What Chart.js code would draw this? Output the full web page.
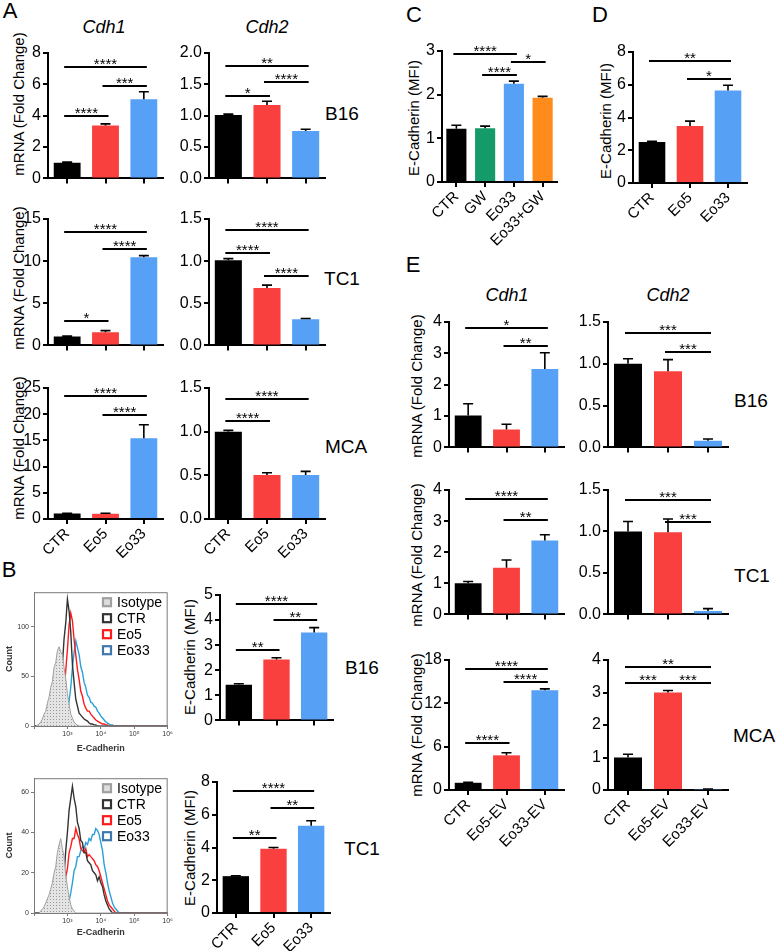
<!DOCTYPE html>
<html>
<head>
<meta charset="utf-8">
<script src="https://cdn.jsdelivr.net/npm/chart.js@4.4.0/dist/chart.umd.min.js"></script>
<style>
body{margin:0;background:#fff;width:778px;height:951px;position:relative;overflow:hidden;font-family:"Liberation Sans",Arial,Helvetica,sans-serif}
canvas{position:absolute}
.t{position:absolute;line-height:1;transform:translate(-50%,-50%);white-space:nowrap;color:#000}
.yt{position:absolute;line-height:1;transform:translate(-50%,-50%) rotate(-90deg);white-space:nowrap;color:#000;font-size:15px}
.letra{font-size:22px}
.gen{font-size:18px;font-style:italic}
.fila{font-size:19px}
</style>
</head>
<body>

<div class="t letra" style="left:10px;top:11px">A</div>
<div class="t gen" style="left:104px;top:27px">Cdh1</div>
<div class="t gen" style="left:267px;top:27px">Cdh2</div>
<div class="t fila" style="left:342px;top:113px">B16</div>
<div class="t fila" style="left:342px;top:278px">TC1</div>
<div class="t fila" style="left:346px;top:446px">MCA</div>
<div class="t letra" style="left:9px;top:570px">B</div>
<div class="t fila" style="left:362px;top:667px">B16</div>
<div class="t fila" style="left:362px;top:848px">TC1</div>
<div class="t letra" style="left:414px;top:15px">C</div>
<div class="t letra" style="left:600px;top:15px">D</div>
<div class="t letra" style="left:413px;top:265px">E</div>
<div class="t gen" style="left:507px;top:295px">Cdh1</div>
<div class="t gen" style="left:668px;top:295px">Cdh2</div>
<div class="t fila" style="left:751px;top:400px">B16</div>
<div class="t fila" style="left:752px;top:575px">TC1</div>
<div class="t fila" style="left:754px;top:735px">MCA</div>

<div class="yt" style="left:18px;top:104px">mRNA (Fold Change)</div>
<div class="yt" style="left:18px;top:278px">mRNA (Fold Change)</div>
<div class="yt" style="left:18px;top:448px">mRNA (Fold Change)</div>
<div class="yt" style="left:189px;top:657px">E-Cadherin (MFI)</div>
<div class="yt" style="left:189px;top:848px">E-Cadherin (MFI)</div>
<div class="yt" style="left:413px;top:118px">E-Cadherin (MFI)</div>
<div class="yt" style="left:605px;top:121px">E-Cadherin (MFI)</div>
<div class="yt" style="left:416px;top:386px">mRNA (Fold Change)</div>
<div class="yt" style="left:416px;top:555px">mRNA (Fold Change)</div>
<div class="yt" style="left:416px;top:725px">mRNA (Fold Change)</div>

<script>
var fuente = '"Liberation Sans", Arial, Helvetica, sans-serif';

// grupos y colores
var grupos_eo = ['CTR', 'Eo5', 'Eo33'];
var grupos_gw = ['CTR', 'GW', 'Eo33', 'Eo33+GW'];
var grupos_ev = ['CTR', 'Eo5-EV', 'Eo33-EV'];
var colores_eo = ['#000000', '#F9403F', '#56A0F5'];
var colores_gw = ['#000000', '#159B6A', '#56A0F5', '#FF8B1C'];

// panel A  (media, error, marcas [i, j, altura, texto])
var a_cdh1_b16 = [1.0, 3.38, 5.05];
var a_cdh1_b16_err = [0.04, 0.1, 0.48];
var a_cdh1_b16_sig = [[0, 2, 7.1, '****'], [1, 2, 5.9, '***'], [0, 1, 4.0, '****']];
var a_cdh2_b16 = [1.01, 1.17, 0.755];
var a_cdh2_b16_err = [0.015, 0.06, 0.03];
var a_cdh2_b16_sig = [[0, 2, 1.8, '**'], [1, 2, 1.53, '****'], [0, 1, 1.31, '*']];
var a_cdh1_tc1 = [1.05, 1.55, 10.45];
var a_cdh1_tc1_err = [0.05, 0.2, 0.2];
var a_cdh1_tc1_sig = [[0, 2, 13.5, '****'], [1, 2, 11.4, '****'], [0, 1, 2.85, '*']];
var a_cdh2_tc1 = [1.01, 0.68, 0.31];
var a_cdh2_tc1_err = [0.02, 0.035, 0.01];
var a_cdh2_tc1_sig = [[0, 2, 1.375, '****'], [0, 1, 1.1, '****'], [1, 2, 0.82, '****']];
var a_cdh1_mca = [1.05, 1.0, 15.4];
var a_cdh1_mca_err = [0.05, 0.1, 2.6];
var a_cdh1_mca_sig = [[0, 2, 23.5, '****'], [1, 2, 19.8, '****']];
var a_cdh2_mca = [1.0, 0.505, 0.505];
var a_cdh2_mca_err = [0.015, 0.025, 0.04];
var a_cdh2_mca_sig = [[0, 2, 1.37, '****'], [0, 1, 1.12, '****']];

// panel B barras
var b_mfi_b16 = [1.42, 2.43, 3.5];
var b_mfi_b16_err = [0.04, 0.07, 0.2];
var b_mfi_b16_sig = [[0, 2, 4.65, '****'], [1, 2, 4.0, '**'], [0, 1, 2.8, '**']];
var b_mfi_tc1 = [2.25, 3.93, 5.33];
var b_mfi_tc1_err = [0.02, 0.07, 0.3];
var b_mfi_tc1_sig = [[0, 2, 7.45, '****'], [1, 2, 6.4, '**'], [0, 1, 4.6, '**']];

// panel B histogramas (x en decadas log10)
var hist_log = [2.00, 2.05, 2.10, 2.15, 2.20, 2.25, 2.30, 2.35, 2.40, 2.45,
    2.50, 2.55, 2.60, 2.65, 2.70, 2.75, 2.80, 2.85, 2.90, 2.95,
    3.00, 3.05, 3.10, 3.15, 3.20, 3.25, 3.30, 3.35, 3.40, 3.45,
    3.50, 3.55, 3.60, 3.65, 3.70, 3.75, 3.80, 3.85, 3.90, 3.95,
    4.00, 4.05, 4.10, 4.15, 4.20, 4.25, 4.30, 4.35, 4.40, 4.45,
    4.50, 4.55, 4.60, 4.65, 4.70, 4.75, 4.80, 4.85, 4.90, 5.50, 6.00];
var hist_series = ['Isotype', 'CTR', 'Eo5', 'Eo33'];
var h_b16_iso = [0, 0, 1, 2, 4, 7, 12, 15, 23, 29,
    39, 45, 59, 64, 76, 80, 75, 72, 59, 48,
    33, 22, 12, 8, 4, 2, 1, 0, 0, 0,
    0, 0, 0, 0, 0, 0, 0, 0, 0, 0,
    0, 0, 0, 0, 0, 0, 0, 0, 0, 0,
    0, 0, 0, 0, 0, 0, 0, 0, 0, 0, 0];
var h_b16_ctr = [0, 0, 0, 0, 0, 0, 0, 0, 0, 0,
    0, 0, 2, 5, 13, 24, 44, 62, 88, 104,
    128, 116, 95, 62, 44, 27, 20, 13, 11, 9,
    7, 6, 5, 3, 2, 2, 1, 1, 0, 0,
    0, 0, 0, 0, 0, 0, 0, 0, 0, 0,
    0, 0, 0, 0, 0, 0, 0, 0, 0, 0, 0];
var h_b16_eo5 = [0, 0, 0, 0, 0, 0, 0, 0, 0, 0,
    0, 0, 0, 0, 1, 4, 9, 21, 35, 56,
    77, 102, 114, 106, 87, 72, 57, 47, 35, 30,
    22, 18, 15, 15, 12, 10, 8, 6, 5, 4,
    3, 2, 2, 1, 1, 0, 0, 0, 0, 0,
    0, 0, 0, 0, 0, 0, 0, 0, 0, 0, 0];
var h_b16_eo33 = [0, 0, 0, 0, 0, 0, 0, 0, 0, 0,
    0, 0, 0, 0, 0, 0, 0, 0, 2, 5,
    12, 25, 39, 59, 74, 86, 79, 72, 60, 54,
    44, 39, 31, 29, 24, 23, 20, 19, 15, 13,
    10, 8, 6, 4, 3, 2, 1, 1, 0, 0,
    0, 0, 0, 0, 0, 0, 0, 0, 0, 0, 0];
var h_tc1_iso = [0, 0, 0, 0, 1, 2, 3, 5, 7, 9,
    12, 15, 20, 23, 30, 34, 37, 32, 28, 19,
    13, 8, 4, 2, 1, 0, 0, 0, 0, 0,
    0, 0, 0, 0, 0, 0, 0, 0, 0, 0,
    0, 0, 0, 0, 0, 0, 0, 0, 0, 0,
    0, 0, 0, 0, 0, 0, 0, 0, 0, 0, 0];
var h_tc1_ctr = [0, 0, 0, 0, 0, 0, 0, 0, 0, 0,
    0, 0, 0, 0, 2, 4, 7, 13, 19, 31,
    40, 51, 57, 63, 57, 53, 45, 42, 36, 35,
    30, 30, 26, 25, 24, 21, 20, 19, 16, 18,
    15, 13, 9, 6, 4, 2, 1, 0, 0, 0,
    0, 0, 0, 0, 0, 0, 0, 0, 0, 0, 0];
var h_tc1_eo5 = [0, 0, 0, 0, 0, 0, 0, 0, 0, 0,
    0, 0, 0, 0, 0, 1, 3, 6, 11, 18,
    22, 30, 33, 37, 37, 42, 39, 37, 32, 31,
    30, 32, 28, 29, 28, 27, 26, 24, 23, 21,
    18, 15, 12, 9, 6, 4, 3, 2, 1, 0,
    0, 0, 0, 0, 0, 0, 0, 0, 0, 0, 0];
var h_tc1_eo33 = [0, 0, 0, 0, 0, 0, 0, 0, 0, 0,
    0, 0, 0, 0, 0, 0, 0, 0, 0, 1,
    3, 6, 10, 15, 21, 23, 28, 28, 31, 33,
    32, 35, 34, 37, 36, 39, 39, 42, 41, 39,
    35, 31, 24, 20, 15, 11, 8, 5, 3, 2,
    1, 0, 0, 0, 0, 0, 0, 0, 0, 0, 0];

// panel C y D
var c_mfi = [1.22, 1.23, 2.25, 1.93];
var c_mfi_err = [0.08, 0.05, 0.06, 0.03];
var c_mfi_sig = [[0, 2, 2.93, '****'], [2, 3, 2.75, '*'], [1, 2, 2.45, '****']];
var d_mfi = [2.5, 3.48, 5.65];
var d_mfi_err = [0.05, 0.3, 0.32];
var d_mfi_sig = [[0, 2, 7.45, '**'], [1, 2, 6.35, '*']];

// panel E
var e_cdh1_b16 = [1.02, 0.57, 2.5];
var e_cdh1_b16_err = [0.37, 0.17, 0.52];
var e_cdh1_b16_sig = [[0, 2, 3.8, '*'], [1, 2, 3.23, '**']];
var e_cdh2_b16 = [1.0, 0.91, 0.08];
var e_cdh2_b16_err = [0.06, 0.14, 0.02];
var e_cdh2_b16_sig = [[0, 2, 1.37, '***'], [1, 2, 1.14, '***']];
var e_cdh1_tc1 = [1.0, 1.5, 2.38];
var e_cdh1_tc1_err = [0.06, 0.25, 0.18];
var e_cdh1_tc1_sig = [[0, 2, 3.7, '****'], [1, 2, 3.05, '**']];
var e_cdh2_tc1 = [1.0, 0.99, 0.04];
var e_cdh2_tc1_err = [0.12, 0.16, 0.03];
var e_cdh2_tc1_sig = [[0, 2, 1.38, '***'], [1, 2, 1.12, '***']];
var e_cdh1_mca = [1.0, 4.8, 13.8];
var e_cdh1_mca_err = [0.05, 0.35, 0.2];
var e_cdh1_mca_sig = [[0, 2, 16.8, '****'], [1, 2, 15.0, '****'], [0, 1, 6.5, '****']];
var e_cdh2_mca = [1.0, 3.0, 0.02];
var e_cdh2_mca_err = [0.1, 0.06, 0.01];
var e_cdh2_mca_sig = [[0, 2, 3.8, '**'], [0, 1, 3.3, '***'], [1, 2, 3.3, '***']];


// barras de error y lineas de significancia
var plugin_marcas = {
    id: 'marcas',
    afterDatasetsDraw: function (chart, args, opts) {
        var ctx = chart.ctx;
        var meta = chart.getDatasetMeta(0);
        var ys = chart.scales.y;
        var ds = chart.data.datasets[0];
        ctx.save();
        ctx.strokeStyle = '#000';
        ctx.fillStyle = '#000';
        ctx.lineWidth = 1.6;
        meta.data.forEach(function (bar, i) {
            var e = ds.errs[i];
            if (!e) return;
            var y0 = ys.getPixelForValue(ds.data[i]);
            var y1 = ys.getPixelForValue(ds.data[i] + e);
            ctx.beginPath();
            ctx.moveTo(bar.x, y0);
            ctx.lineTo(bar.x, y1);
            ctx.moveTo(bar.x - 5, y1);
            ctx.lineTo(bar.x + 5, y1);
            ctx.stroke();
        });
        ctx.lineWidth = 2;
        ctx.textAlign = 'center';
        ctx.textBaseline = 'alphabetic';
        ctx.font = '15px ' + fuente;
        (opts.lista || []).forEach(function (m) {
            var xa = meta.data[m[0]].x - 3;
            var xb = meta.data[m[1]].x + 3;
            var y = Math.round(ys.getPixelForValue(m[2]));
            ctx.beginPath();
            ctx.moveTo(xa, y);
            ctx.lineTo(xb, y);
            ctx.stroke();
            ctx.fillText(m[3], (xa + xb) / 2, y + 1.5);
        });
        ctx.restore();
    }
};

function grafico_barras(c) {
    var pad_t = 14, pad_r = 6;
    var cv = document.createElement('canvas');
    cv.width = c.yW + (c.R - c.L) + pad_r;
    cv.height = pad_t + (c.B - c.T) + c.xH;
    cv.style.left = (c.L - c.yW) + 'px';
    cv.style.top = (c.T - pad_t) + 'px';
    document.body.appendChild(cv);
    var eje = { display: true, drawOnChartArea: false, offset: false, color: '#000', lineWidth: 2, tickLength: 5 };
    return new Chart(cv, {
        type: 'bar',
        data: {
            labels: c.labels,
            datasets: [{ data: c.values, errs: c.errs, backgroundColor: c.colors, borderWidth: 0, barPercentage: 0.7, categoryPercentage: 1 }]
        },
        options: {
            responsive: false,
            animation: false,
            layout: { padding: { top: pad_t, right: pad_r, left: 0, bottom: 0 } },
            plugins: { legend: { display: false }, tooltip: { enabled: false }, marcas: { lista: c.sig } },
            scales: {
                x: {
                    grid: eje,
                    border: { color: '#000', width: 2 },
                    ticks: { display: !!c.showX, autoSkip: false, color: '#000', font: { family: fuente, size: 15 }, minRotation: 45, maxRotation: 45, padding: 1 },
                    afterFit: function (s) { s.height = c.xH; }
                },
                y: {
                    min: c.min, max: c.max,
                    grid: eje,
                    border: { color: '#000', width: 2 },
                    ticks: {
                        stepSize: c.step, color: '#000', font: { family: fuente, size: 16 }, padding: 2,
                        callback: function (v) { return c.dec ? v.toFixed(1) : v; }
                    },
                    afterFit: function (s) { s.width = c.yW; }
                }
            }
        },
        plugins: [plugin_marcas]
    });
}

// patron punteado del isotipo
function patron_iso() {
    var p = document.createElement('canvas');
    p.width = 3; p.height = 3;
    var g = p.getContext('2d');
    g.fillStyle = '#e4e4e4';
    g.fillRect(0, 0, 3, 3);
    g.fillStyle = '#9a9a9a';
    g.fillRect(1, 1, 1, 1);
    return g.createPattern(p, 'repeat');
}

var colores_hist = ['#a0a0a0', '#333333', '#ff1a1a', '#2b9fd9'];
var colores_leyenda = ['#a0a0a0', '#333333', '#ff1a1a', '#3f77ad'];

var plugin_caja = {
    id: 'caja',
    afterDraw: function (chart) {
        var ctx = chart.ctx, a = chart.chartArea;
        ctx.save();
        ctx.strokeStyle = '#7a7a7a';
        ctx.lineWidth = 1;
        ctx.strokeRect(a.left + 0.5, a.top + 0.5, a.right - a.left - 1, a.bottom - a.top);
        // leyenda
        ctx.font = '14px ' + fuente;
        ctx.textBaseline = 'middle';
        ctx.textAlign = 'left';
        hist_series.forEach(function (n, i) {
            var x = a.left + 73, y = a.top + 10 + i * 16;
            ctx.lineWidth = 2.2;
            ctx.strokeStyle = colores_leyenda[i];
            ctx.fillStyle = i === 0 ? '#dddddd' : '#ffffff';
            ctx.fillRect(x - 4, y - 4, 8, 8);
            ctx.strokeRect(x - 4, y - 4, 8, 8);
            ctx.fillStyle = '#000';
            ctx.fillText(n, x + 10, y + 1);
        });
        ctx.restore();
    }
};

function grafico_hist(c) {
    var cv = document.createElement('canvas');
    var pad_t = 3, pad_r = 3;
    cv.width = c.yW + (c.R - c.L) + pad_r;
    cv.height = pad_t + (c.B - c.T) + c.xH;
    cv.style.left = (c.L - c.yW) + 'px';
    cv.style.top = (c.T - pad_t) + 'px';
    document.body.appendChild(cv);
    var relleno = patron_iso();
    var series = c.series.map(function (d, i) {
        return {
            label: hist_series[i], data: d, borderColor: colores_hist[i], borderWidth: i === 0 ? 1 : 1.4,
            pointRadius: 0, tension: 0, fill: i === 0 ? 'origin' : false, backgroundColor: i === 0 ? relleno : 'transparent'
        };
    });
    var raya = { display: true, drawOnChartArea: false, color: '#7a7a7a', lineWidth: 1, tickLength: 3 };
    var sup = { 3: '10³', 4: '10⁴', 5: '10⁵', 6: '10⁶' };
    return new Chart(cv, {
        type: 'line',
        data: { labels: hist_log, datasets: series },
        options: {
            responsive: false,
            animation: false,
            layout: { padding: { top: pad_t, right: pad_r, left: 0, bottom: 0 } },
            plugins: { legend: { display: false }, tooltip: { enabled: false } },
            scales: {
                x: {
                    type: 'linear', min: 2, max: 6,
                    grid: raya, border: { color: '#7a7a7a', width: 1 },
                    ticks: { stepSize: 1, color: '#333', font: { family: fuente, size: 7 }, padding: 1, maxRotation: 0, callback: function (v) { return sup[v] || ''; } },
                    title: { display: true, text: 'E-Cadherin', color: '#333', font: { family: fuente, size: 9, weight: 'bold' }, padding: 0 },
                    afterFit: function (s) { s.height = c.xH; }
                },
                y: {
                    min: 0, max: c.max,
                    grid: raya, border: { color: '#7a7a7a', width: 1 },
                    ticks: { stepSize: c.step, color: '#333', font: { family: fuente, size: 7 }, padding: 2 },
                    afterBuildTicks: function (s) { s.ticks = s.ticks.filter(function (t) { return t.value % c.step === 0; }); },
                    title: { display: true, text: 'Count', color: '#333', font: { family: fuente, size: 9, weight: 'bold' }, padding: 0 },
                    afterFit: function (s) { s.width = c.yW; }
                }
            }
        },
        plugins: [plugin_caja]
    });
}


// panel A
grafico_barras({ L: 48, R: 163, T: 53, B: 184, yW: 40, xH: 6, labels: grupos_eo, values: a_cdh1_b16, errs: a_cdh1_b16_err, colors: colores_eo, sig: a_cdh1_b16_sig, min: 0, max: 8, step: 2 });
grafico_barras({ L: 209, R: 325, T: 53, B: 184, yW: 40, xH: 6, labels: grupos_eo, values: a_cdh2_b16, errs: a_cdh2_b16_err, colors: colores_eo, sig: a_cdh2_b16_sig, min: 0, max: 2, step: 0.5, dec: true });
grafico_barras({ L: 48, R: 163, T: 219, B: 351, yW: 40, xH: 6, labels: grupos_eo, values: a_cdh1_tc1, errs: a_cdh1_tc1_err, colors: colores_eo, sig: a_cdh1_tc1_sig, min: 0, max: 15, step: 5 });
grafico_barras({ L: 209, R: 325, T: 219, B: 351, yW: 40, xH: 6, labels: grupos_eo, values: a_cdh2_tc1, errs: a_cdh2_tc1_err, colors: colores_eo, sig: a_cdh2_tc1_sig, min: 0, max: 1.5, step: 0.5, dec: true });
grafico_barras({ L: 48, R: 163, T: 388, B: 519, yW: 40, xH: 60, showX: true, labels: grupos_eo, values: a_cdh1_mca, errs: a_cdh1_mca_err, colors: colores_eo, sig: a_cdh1_mca_sig, min: 0, max: 25, step: 5 });
grafico_barras({ L: 209, R: 325, T: 388, B: 519, yW: 40, xH: 60, showX: true, labels: grupos_eo, values: a_cdh2_mca, errs: a_cdh2_mca_err, colors: colores_eo, sig: a_cdh2_mca_sig, min: 0, max: 1.5, step: 0.5, dec: true });

// panel B
grafico_hist({ L: 34, R: 171, T: 589, B: 726, yW: 30, xH: 28, max: 135, step: 50, series: [h_b16_iso, h_b16_ctr, h_b16_eo5, h_b16_eo33] });
grafico_hist({ L: 34, R: 171, T: 775, B: 913, yW: 30, xH: 25, max: 67, step: 20, series: [h_tc1_iso, h_tc1_ctr, h_tc1_eo5, h_tc1_eo33] });
grafico_barras({ L: 220, R: 333, T: 595, B: 726, yW: 40, xH: 6, labels: grupos_eo, values: b_mfi_b16, errs: b_mfi_b16_err, colors: colores_eo, sig: b_mfi_b16_sig, min: 0, max: 5, step: 1 });
grafico_barras({ L: 217, R: 330, T: 782, B: 913, yW: 37, xH: 60, showX: true, labels: grupos_eo, values: b_mfi_tc1, errs: b_mfi_tc1_err, colors: colores_eo, sig: b_mfi_tc1_sig, min: 0, max: 8, step: 2 });

// panel C y D
grafico_barras({ L: 442, R: 557, T: 51, B: 182, yW: 38, xH: 75, showX: true, labels: grupos_gw, values: c_mfi, errs: c_mfi_err, colors: colores_gw, sig: c_mfi_sig, min: 0, max: 3, step: 1 });
grafico_barras({ L: 633, R: 747, T: 52, B: 183, yW: 37, xH: 60, showX: true, labels: grupos_eo, values: d_mfi, errs: d_mfi_err, colors: colores_eo, sig: d_mfi_sig, min: 0, max: 8, step: 2 });

// panel E
grafico_barras({ L: 449, R: 564, T: 322, B: 453, yW: 30, xH: 6, labels: grupos_ev, values: e_cdh1_b16, errs: e_cdh1_b16_err, colors: colores_eo, sig: e_cdh1_b16_sig, min: 0, max: 4, step: 1 });
grafico_barras({ L: 608, R: 728, T: 322, B: 453, yW: 40, xH: 6, labels: grupos_ev, values: e_cdh2_b16, errs: e_cdh2_b16_err, colors: colores_eo, sig: e_cdh2_b16_sig, min: 0, max: 1.5, step: 0.5, dec: true });
grafico_barras({ L: 449, R: 564, T: 490, B: 620, yW: 30, xH: 6, labels: grupos_ev, values: e_cdh1_tc1, errs: e_cdh1_tc1_err, colors: colores_eo, sig: e_cdh1_tc1_sig, min: 0, max: 4, step: 1 });
grafico_barras({ L: 608, R: 728, T: 490, B: 620, yW: 40, xH: 6, labels: grupos_ev, values: e_cdh2_tc1, errs: e_cdh2_tc1_err, colors: colores_eo, sig: e_cdh2_tc1_sig, min: 0, max: 1.5, step: 0.5, dec: true });
grafico_barras({ L: 449, R: 564, T: 660, B: 790, yW: 30, xH: 75, showX: true, labels: grupos_ev, values: e_cdh1_mca, errs: e_cdh1_mca_err, colors: colores_eo, sig: e_cdh1_mca_sig, min: 0, max: 18, step: 6 });
grafico_barras({ L: 608, R: 728, T: 660, B: 790, yW: 40, xH: 75, showX: true, labels: grupos_ev, values: e_cdh2_mca, errs: e_cdh2_mca_err, colors: colores_eo, sig: e_cdh2_mca_sig, min: 0, max: 4, step: 1 });
</script>
</body>
</html>
